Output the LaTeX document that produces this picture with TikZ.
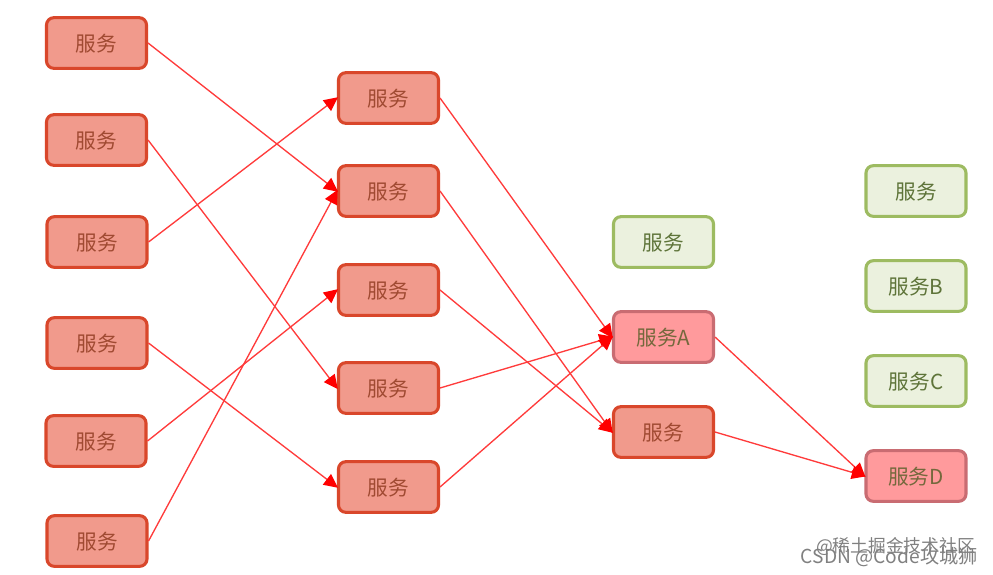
\documentclass[tikz,border=0pt]{standalone}
\usepackage{fontspec}
\setmainfont{Liberation Sans}
\newfontfamily\cjk{Noto Sans CJK SC}
\usetikzlibrary{arrows.meta}
\definecolor{hotfill}{HTML}{F19A8C}
\definecolor{hotline}{HTML}{D9472B}
\definecolor{hottext}{HTML}{A04A32}
\definecolor{pinkfill}{HTML}{FF9A9C}
\definecolor{pinkline}{HTML}{C96C72}
\definecolor{pinktext}{HTML}{74683C}
\definecolor{calmfill}{HTML}{EBF1DE}
\definecolor{calmline}{HTML}{9DBB61}
\definecolor{calmtext}{HTML}{5E7439}
\definecolor{linkred}{HTML}{FF3B3B}
\tikzset{
 x=0.75pt,y=-0.75pt,
 svcbox/.style={rectangle,rounded corners=5.5pt,minimum width=75pt,minimum height=38pt,inner sep=0pt,line width=2.3pt,text depth=0pt,font=\cjk\fontsize{15.5}{17}\selectfont},
 hot/.style={svcbox,draw=hotline,fill=hotfill,text=hottext},
 pink/.style={svcbox,draw=pinkline,fill=pinkfill,text=pinktext},
 calm/.style={svcbox,draw=calmline,fill=calmfill,text=calmtext},
 link/.style={draw=linkred,line width=1pt,-{Triangle[length=10.5pt,width=10pt,color=red]},shorten >=-1pt},
 wm/.style={text=black!50,inner sep=0pt,anchor=east},
 wmtop/.style={wm,font=\cjk\fontsize{13.3}{15}\selectfont},
 wmlow/.style={wm,font=\cjk\fontsize{14.4}{16}\selectfont}
}
\begin{document}
\begin{tikzpicture}
\useasboundingbox (0,0) rectangle (993,575);
\fill[white] (0,0) rectangle (993,575);
\node[hot] (a1) at (96.5,43) {服务};
\node[hot] (a2) at (96.5,140) {服务};
\node[hot] (a3) at (97,242) {服务};
\node[hot] (a4) at (97,343) {服务};
\node[hot] (a5) at (96,441) {服务};
\node[hot] (a6) at (97,541) {服务};
\node[hot] (b1) at (388.5,98) {服务};
\node[hot] (b2) at (388.5,191) {服务};
\node[hot] (b3) at (388.5,290) {服务};
\node[hot] (b4) at (388.5,388) {服务};
\node[hot] (b5) at (388.5,487) {服务};
\node[calm] (c1) at (663.5,242) {服务};
\node[pink] (c2) at (663.5,337) {服务A};
\node[hot] (c3) at (663.5,432) {服务};
\node[calm] (d1) at (916,191) {服务};
\node[calm] (d2) at (916,286) {服务B};
\node[calm] (d3) at (916,381) {服务C};
\node[pink] (d4) at (916,476) {服务D};
\draw[link] (a1.east) -- (b2.west);
\draw[link] (a2.east) -- (b4.west);
\draw[link] (a3.east) -- (b1.west);
\draw[link] (a4.east) -- (b5.west);
\draw[link] (a5.east) -- (b3.west);
\draw[link] (a6.east) -- (b2.west);
\draw[link] (b1.east) -- (c2.west);
\draw[link] (b2.east) -- (c3.west);
\draw[link] (b3.east) -- (c3.west);
\draw[link] (b4.east) -- (c2.west);
\draw[link] (b5.east) -- (c2.west);
\draw[link] (c2.east) -- (d4.west);
\draw[link] (c3.east) -- (d4.west);
\node[wmtop] (w1) at (975,546) {@稀土掘金技术社区};
\node[wmlow] (w2) at (978,557) {CSDN @Code攻城狮};
\end{tikzpicture}
\end{document}
